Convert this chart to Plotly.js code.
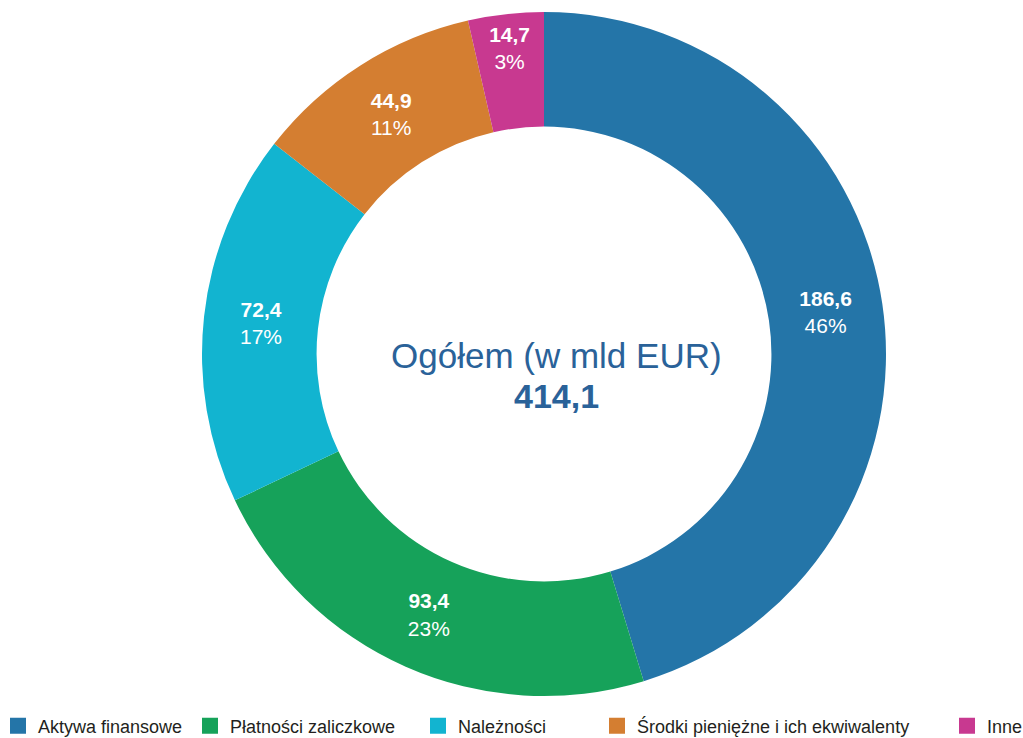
<!DOCTYPE html>
<html>
<head>
<meta charset="utf-8">
<script src="https://cdn.plot.ly/plotly-3.0.1.min.js"></script>
<style>html,body{margin:0;padding:0;background:#fff;}#chart{width:1023px;height:738px;}</style>
</head>
<body>
<div id="chart"></div>
<script>
const categories = ["Aktywa finansowe", "Płatności zaliczkowe", "Należności", "Środki pieniężne i ich ekwiwalenty", "Inne"];
const values = [186.6, 93.4, 72.4, 44.9, 14.7];
const percentLabels = ["46%", "23%", "17%", "11%", "3%"];
const valueLabels = ["186,6", "93,4", "72,4", "44,9", "14,7"];
const colors = ["#2475a8", "#16a25a", "#12b4d0", "#d47e31", "#c83990"];
const totalTitle = "Ogółem (w mld EUR)";
const totalLabel = "414,1";
const legendX = [18, 210, 438, 617, 967];

const W = 1023, H = 738;
const FONT = "Liberation Sans, Arial, Helvetica, sans-serif";

const pie = {
  type: "pie",
  labels: categories,
  values: values,
  text: valueLabels.map((v, i) => "<b>" + v + "</b><br>" + percentLabels[i]),
  textinfo: "text",
  textposition: "inside",
  insidetextorientation: "horizontal",
  insidetextfont: {color: "#ffffff", size: 21, family: FONT},
  hole: 0.665,
  sort: false,
  direction: "clockwise",
  rotation: 0,
  marker: {colors: colors, line: {width: 0}},
  showlegend: false,
  hoverinfo: "label+value+percent",
  domain: {x: [202 / W, 886 / W], y: [(H - 696) / H, (H - 12) / H]}
};

const traces = [pie];
const layout = {
  width: W, height: H,
  margin: {l: 0, r: 0, t: 0, b: 0, autoexpand: false},
  paper_bgcolor: "#ffffff",
  plot_bgcolor: "#ffffff",
  font: {family: FONT, color: "#231f20"},
  xaxis: {visible: false},
  yaxis: {visible: false},
  annotations: [
    {text: totalTitle, x: 556 / W, y: (H - 356) / H, xref: "paper", yref: "paper",
     showarrow: false, font: {size: 35, color: "#2a6299", family: FONT}},
    {text: "<b>" + totalLabel + "</b>", x: 556 / W, y: (H - 396) / H, xref: "paper", yref: "paper",
     showarrow: false, font: {size: 34, color: "#2a6299", family: FONT}}
  ]
};

categories.forEach((c, i) => {
  const key = i === 0 ? "legend" : "legend" + (i + 1);
  traces.push({
    type: "scatter", mode: "markers", x: [null], y: [null], name: c,
    marker: {symbol: "square", size: 16, color: colors[i]},
    legend: key, showlegend: true, hoverinfo: "skip"
  });
  layout[key] = {
    x: (legendX[i] - 20) / W, xanchor: "left",
    y: (H - 726) / H, yanchor: "middle",
    orientation: "h", bgcolor: "rgba(0,0,0,0)", borderwidth: 0,
    font: {size: 18, color: "#231f20", family: FONT}
  };
});

Plotly.newPlot("chart", traces, layout, {displayModeBar: false, staticPlot: true});
</script>
</body>
</html>
